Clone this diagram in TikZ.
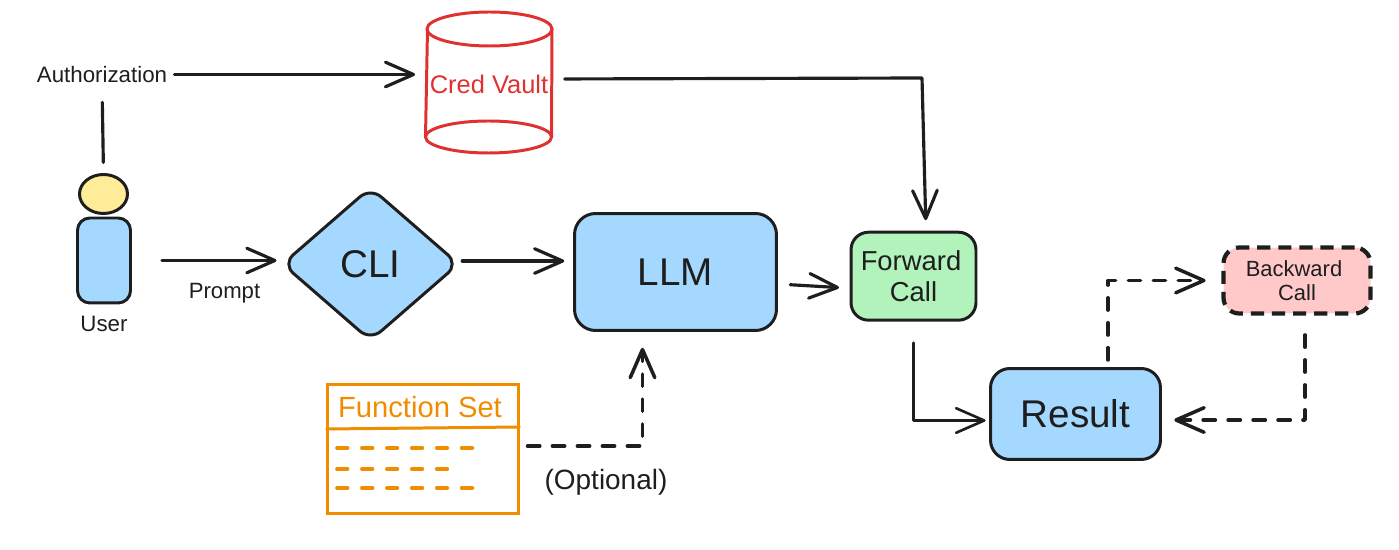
\documentclass[tikz,border=0pt]{standalone}
\usepackage{fontspec}
\setmainfont{Liberation Sans}
\usetikzlibrary{arrows.meta,shapes.geometric}
\definecolor{kink}{HTML}{1E1E1E}
\definecolor{kblue}{HTML}{A5D8FF}
\definecolor{kyellow}{HTML}{FFEC99}
\definecolor{kgreen}{HTML}{B2F2BB}
\definecolor{kpink}{HTML}{FFC9C9}
\definecolor{kred}{HTML}{E03131}
\definecolor{korange}{HTML}{F08C00}
\newcommand{\kfs}[2]{\fontsize{#1}{#2}\selectfont}
\tikzset{
kbox/.style={draw=kink,line width=1.7pt,rounded corners=#1,align=center,text=kink,inner sep=0pt},
klab/.style={text=kink,inner sep=0pt,align=center},
kline/.style={draw=kink,line width=1.8pt,line cap=round,line join=round},
karr/.style={kline,-{Straight Barb[length=16pt,width=14pt,round]}},
kdash/.style={line width=2pt,dash pattern=on 7pt off 7.2pt},
}
\begin{document}
\begin{tikzpicture}[x=0.02cm,y=-0.02cm]
\useasboundingbox(0,0)rectangle(1399,550);
\node[klab,font=\kfs{12.7}{15}](auth)at(102,74.5){Authorization};
\node[klab,font=\kfs{12.6}{15}](prompt)at(224.5,293.5){Prompt};
\node[klab,font=\kfs{12.7}{15}](userlb)at(104,324){User};
\node[klab,font=\kfs{15.9}{18}](optlb)at(606,482.5){(Optional)};
\node[draw,ellipse,kbox=0pt,fill=kyellow,minimum width=.96cm,minimum height=.78cm](head)at(103.5,194){};
\node[kbox=7pt,fill=kblue,minimum width=1.06cm,minimum height=1.7cm](body)at(104,260.5){};
\node[kbox=8pt,diamond,fill=kblue,minimum width=3.54cm,minimum height=3.08cm,font=\kfs{22}{24}](cli)at(370.5,264){CLI};
\node[kbox=12pt,fill=kblue,minimum width=4.04cm,minimum height=2.34cm,font=\kfs{22}{26}](llm)at(675.5,272){LLM};
\node[kbox=10pt,fill=kgreen,minimum width=2.5cm,minimum height=1.76cm,font=\kfs{15.6}{18}](fwd)at(913.5,276.2){Forward\kern.1cm\\Call};
\node[kbox=11pt,fill=kblue,minimum width=3.4cm,minimum height=1.82cm,font=\kfs{22}{25}](res)at(1075.5,414){Result};
\node[kbox=9pt,fill=kpink,line width=2.4pt,dash pattern=on 7.5pt off 4.5pt,minimum width=2.94cm,minimum height=1.32cm,font=\kfs{12.5}{14}](back)at(1297,280.5){Backward\kern.12cm\\Call};
\draw[draw=kred,line width=1.7pt](427.5,29)--(425.5,137)(552,29)--(551.5,137);
\draw[draw=kred,line width=1.7pt](489.5,29)ellipse[x radius=62.5,y radius=17];
\draw[draw=kred,line width=1.7pt](488.5,137)ellipse[x radius=63,y radius=16];
\node[text=kred,inner sep=0pt,minimum width=2.52cm,minimum height=2.16cm,font=\kfs{14.5}{17}](vault)at(489,84){Cred Vault};
\node[draw=korange,line width=1.7pt,inner sep=0pt,minimum width=3.84cm,minimum height=2.6cm](fset)at(423,449){};
\node[text=korange,inner sep=0pt,font=\kfs{16.6}{19}](ftitle)at(420,407){Function Set};
\draw[korange,line width=1.7pt](fset.west|-0,429)--(fset.east|-0,427);
\foreach \ky/\kend in {448/473,469/448,488/473}{\draw[korange,line width=2.1pt,line cap=round,dash pattern=on 6pt off 8.2pt](337,\ky)--(\kend,\ky);}
\coordinate(vk)at(922,78);
\draw[kline,shorten <=11pt,shorten >=6pt](auth.south)--(head.north);
\draw[karr,shorten <=4pt,shorten >=6pt](auth.east)--(auth.east-|vault.west);
\draw[karr,shorten <=7pt,shorten >=6pt]([yshift=.1cm]vault.east)--(vk)--([xshift=.25cm]fwd.north);
\draw[karr,shorten <=17pt,shorten >=2.3pt](body.east)--(body.east-|cli.west);
\draw[karr,shorten <=1pt,shorten >=5pt]([yshift=.06cm]cli.east)--([yshift=.06cm]cli.east-|llm.west);
\draw[karr,shorten <=7pt,shorten >=6pt]([yshift=-.24cm]llm.east)--([yshift=-.24cm]fwd.west);
\draw[karr,kdash,shorten <=4pt,shorten >=9pt]([yshift=.06cm]fset.east)-|([xshift=-.66cm]llm.south);
\draw[karr,line width=1.5pt,shorten <=12pt,shorten >=2pt](fwd.south)|-([yshift=-.13cm]res.west);
\draw[karr,kdash,shorten <=4pt,shorten >=9pt]([xshift=.65cm]res.north)|-(back.west);
\draw[karr,kdash,shorten <=11pt,shorten >=7pt]([xshift=.16cm]back.south)|-([yshift=-.12cm]res.east);
\end{tikzpicture}
\end{document}
